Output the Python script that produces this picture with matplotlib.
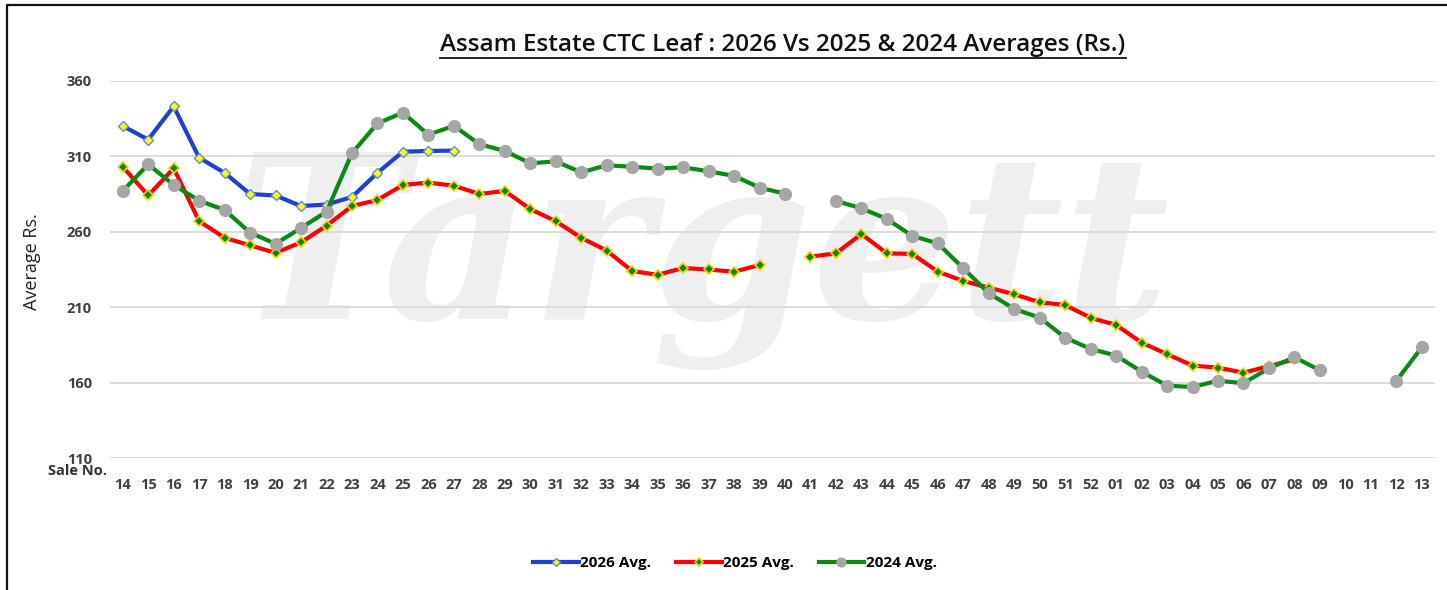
import numpy as np
import matplotlib
matplotlib.use("Agg")
import matplotlib.pyplot as plt
from matplotlib.lines import Line2D

plt.rcParams["font.family"] = ["Open Sans", "DejaVu Sans"]

nan = np.nan
sale_no = [str(s) for s in range(14, 53)] + [f"{s:02d}" for s in range(1, 14)]

avg_2026 = [330, 321, 343, 309, 299, 285, 284, 277, 278, 283, 299, 313, 313.5, 313.7] + [nan] * 38

avg_2025 = [303, 284, 302, 267, 256, 251, 246, 253, 264, 277, 281, 291, 292.5, 290.5,
            285, 287, 275, 267, 256, 247.5, 234, 231.5, 236, 235, 233.5, 238, nan,
            243.5, 245.7, 258.5, 245.7, 245.3, 233.6, 227.4, 223, 218.6, 213.3, 211.5, 203,
            198.3, 186.6, 179, 171.4, 170, 166.7, 171, 175.5, nan, nan, nan, nan, nan]

avg_2024 = [287, 304.6, 291, 280.6, 274.4, 259.4, 252, 262.5, 273.3, 312, 331.8, 338.8, 324.3, 330.1,
            318, 313.5, 305.3, 306.6, 299.3, 304, 303, 301.8, 302.7, 300, 297, 289.2, 285.2, nan,
            280.4, 275.5, 268.5, 257.2, 252.3, 235.8, 219.3, 208.9, 203.1, 189.9, 182.4,
            178, 167.4, 158.1, 157.2, 161.4, 159.7, 169.6, 176.9, 168.3, nan, nan, 161.2, 183.5]

W, H = 1447, 590
fig = plt.figure(figsize=(W / 100, H / 100), dpi=100)
ax = fig.add_axes([110 / W, 1 - 458.3 / H, 1324.5 / W, (458.3 - 80.7) / H])
ax.set_zorder(2)

x = np.arange(len(sale_no))

# faint watermark behind the plot
fig.text(0.485, 0.56, "Targett", fontsize=165, family="DejaVu Serif", style="italic",
         weight="bold", color="#efeff2", ha="center", va="center", zorder=0)

ax.plot(x, avg_2026, color="#1f3fd6", lw=3, marker="D", ms=5.5, mfc="#ffff00",
        mec="#5b8fe0", mew=1, label="2026 Avg.", zorder=3)
ax.plot(x, avg_2025, color="#ff0000", lw=3, marker="D", ms=5.5, mfc="#008a00",
        mec="#ffd000", mew=1.2, label="2025 Avg.", zorder=4)
ax.plot(x, avg_2024, color="#0a8a12", lw=3, marker="o", ms=8.5, mfc="#a6a6a6",
        mec="#a6a6a6", label="2024 Avg.", zorder=5)

ax.set_xlim(-0.5, len(sale_no) - 0.5)
ax.set_ylim(110, 360)
ax.set_yticks([110, 160, 210, 260, 310, 360])
ax.set_xticks(x)
ax.set_xticklabels(sale_no)
ax.grid(axis="y", color="#d9d9d9", lw=1.3)
ax.set_axisbelow(True)
for s in ax.spines.values():
    s.set_visible(False)
ax.patch.set_alpha(0)
ax.tick_params(length=0, labelsize=10.5, labelcolor="#404040")
ax.tick_params(axis="y", pad=13)
ax.tick_params(axis="x", pad=14)
for lab in ax.get_xticklabels() + ax.get_yticklabels():
    lab.set_fontweight("bold")

fig.text(32 / W, 1 - 262 / H, "Average Rs.", rotation=90, ha="center", va="center",
         fontsize=13, color="#222222")
fig.text(77 / W, 1 - 471 / H, "Sale No.", ha="center", va="center", fontsize=10.5,
         weight="bold", color="#333333")

title = fig.text(783 / W, 1 - 45 / H, "Assam Estate CTC Leaf : 2026 Vs 2025 & 2024 Averages (Rs.)",
                 ha="center", va="center", fontsize=17.5, weight="semibold", color="#111111")

ax.legend(loc="center", bbox_to_anchor=(735 / W, 1 - 563 / H), bbox_transform=fig.transFigure,
          ncol=3, frameon=False, handlelength=3, columnspacing=1.6, markerscale=0.75,
          handletextpad=0.1, prop={"weight": "bold", "size": 11})

# underline the title and draw the clipped frame
fig.canvas.draw()
bb = title.get_window_extent()
uy = (bb.y0 - 1) / H
fig.add_artist(Line2D([bb.x0 / W, bb.x1 / W], [uy, uy], color="#111111", lw=1.3))
fig.add_artist(Line2D([7 / W, 7 / W, 1], [0, 1 - 5 / H, 1 - 5 / H], color="#111111", lw=1.6))

fig.savefig("out.png", dpi=100)
